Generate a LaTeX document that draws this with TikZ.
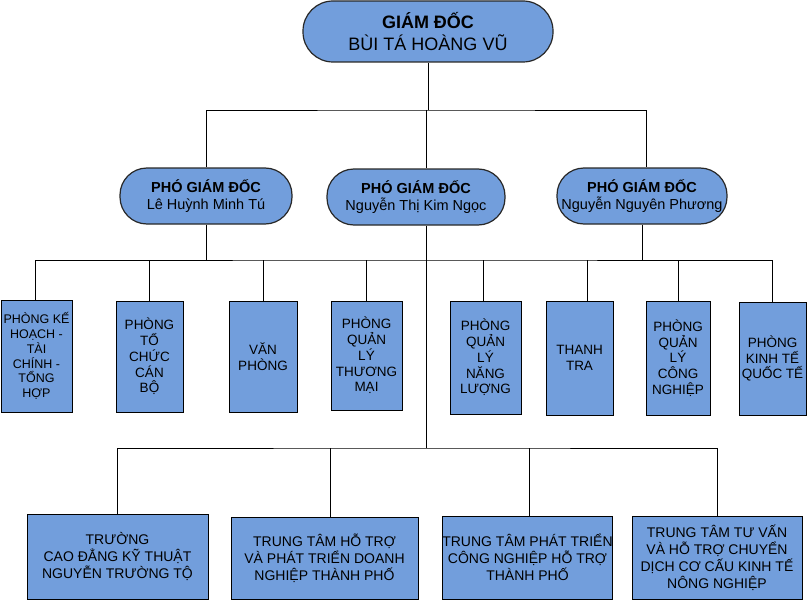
\documentclass[tikz,border=0pt]{standalone}
\usepackage{fontspec}
\setmainfont{Liberation Sans}
\definecolor{boxblue}{RGB}{114,158,220}
\definecolor{edge}{RGB}{40,40,40}
\tikzset{
  pill/.style={draw=edge, line width=1.2pt, fill=boxblue, align=center, inner sep=0pt},
  dept/.style={draw=black, line width=0.9pt, fill=boxblue, align=center, inner sep=0pt,
    font=\fontsize{13.5}{15.7}\selectfont},
  unit/.style={draw=black, line width=0.9pt, fill=boxblue, align=center, inner sep=0pt,
    font=\fontsize{14}{17}\selectfont},
  conn/.style={draw=black, line width=0.9pt}
}
\begin{document}
\begin{tikzpicture}[x=1pt,y=-1pt]
\useasboundingbox (0,0) rectangle (807,602);
% top
\node[pill, rounded corners=30pt, minimum width=250pt, minimum height=61pt,
  font=\fontsize{18}{22}\selectfont] (gd) at (428,31.5)
  {\textbf{GIÁM ĐỐC}\\BÙI TÁ HOÀNG VŨ};
% deputies
\node[pill, rounded corners=27pt, minimum width=172pt, minimum height=56pt,
  font=\fontsize{14.5}{17}\selectfont] (p1) at (206,196)
  {\textbf{PHÓ GIÁM ĐỐC}\\Lê Huỳnh Minh Tú};
\node[pill, rounded corners=27pt, minimum width=178pt, minimum height=56pt,
  font=\fontsize{14.5}{17}\selectfont] (p2) at (416,197)
  {\textbf{PHÓ GIÁM ĐỐC}\\Nguyễn Thị Kim Ngọc};
\node[pill, rounded corners=27pt, minimum width=170pt, minimum height=56pt,
  font=\fontsize{14.5}{17}\selectfont] (p3) at (642,196)
  {\textbf{PHÓ GIÁM ĐỐC}\\Nguyễn Nguyên Phương};
% departments
\node[dept, minimum width=71pt, minimum height=112pt, font=\fontsize{12.5}{14.7}\selectfont] (k1) at (36.5,356)
  {PHÒNG KẾ\\HOẠCH -\\TÀI\\CHÍNH -\\TỔNG\\HỢP};
\node[dept, minimum width=67pt, minimum height=111pt] (k2) at (149.5,356.5)
  {PHÒNG\\TỔ\\CHỨC\\CÁN\\BỘ};
\node[dept, minimum width=68pt, minimum height=111pt] (k3) at (263,356.5)
  {VĂN\\PHÒNG};
\node[dept, minimum width=71pt, minimum height=109pt] (k4) at (366.5,355.5)
  {PHÒNG\\QUẢN\\LÝ\\THƯƠNG\\MẠI};
\node[dept, minimum width=71pt, minimum height=113pt] (k5) at (485.5,357.5)
  {PHÒNG\\QUẢN\\LÝ\\NĂNG\\LƯỢNG};
\node[dept, minimum width=67pt, minimum height=114pt] (k6) at (579.5,358)
  {THANH\\TRA};
\node[dept, minimum width=64pt, minimum height=114pt] (k7) at (678,358)
  {PHÒNG\\QUẢN\\LÝ\\CÔNG\\NGHIỆP};
\node[dept, minimum width=67pt, minimum height=113pt] (k8) at (772.5,358.5)
  {PHÒNG\\KINH TẾ\\QUỐC TẾ};
% units
\node[unit, minimum width=181pt, minimum height=85pt] (ua) at (117.5,556.5)
  {TRƯỜNG\\CAO ĐẲNG KỸ THUẬT\\NGUYỄN TRƯỜNG TỘ};
\node[unit, minimum width=187pt, minimum height=82pt] (ub) at (324.5,558)
  {TRUNG TÂM HỖ TRỢ\\VÀ PHÁT TRIỂN DOANH\\NGHIỆP THÀNH PHỐ};
\node[unit, minimum width=169pt, minimum height=83pt] (uc) at (527.5,557.5)
  {TRUNG TÂM PHÁT TRIỂN\\CÔNG NGHIỆP HỖ TRỢ\\THÀNH PHỐ};
\node[unit, minimum width=170pt, minimum height=83pt] (ud) at (717,557.5)
  {TRUNG TÂM TƯ VẤN\\VÀ HỖ TRỢ CHUYỂN\\DỊCH CƠ CẤU KINH TẾ\\NÔNG NGHIỆP};
% bus points
\coordinate (b1) at (426,110);
\coordinate (b2) at (426,260);
\coordinate (b3) at (426,448);
% connectors
\draw[conn] (gd.south) -- (gd.south |- b1);
\draw[conn] (p1.north) |- (b1) -| ([xshift=4pt]p3.north);
\draw[conn] (b1) -- (b1 |- p2.north);
\draw[conn] (b1 |- p2.south) -- (b3);
\draw[conn] (p1.south) -- (p1.south |- b2);
\draw[conn] (p3.south) -- (p3.south |- b2);
\draw[conn] ([xshift=-1pt]k1.north) |- (b2) -| (k8.north);
\foreach \k in {k2,k3,k4,k7}{\draw[conn] (\k.north) -- (\k.north |- b2);}
\draw[conn] ([xshift=-2.5pt]k5.north) -- ([xshift=-2.5pt]k5.north |- b2);
\draw[conn] ([xshift=8pt]k6.north) -- ([xshift=8pt]k6.north |- b2);
\draw[conn] (ua.north) |- (b3) -| (ud.north);
\draw[conn] ([xshift=5.5pt]ub.north) -- ([xshift=5.5pt]ub.north |- b3);
\draw[conn] ([xshift=1.5pt]uc.north) -- ([xshift=1.5pt]uc.north |- b3);
\end{tikzpicture}
\end{document}
